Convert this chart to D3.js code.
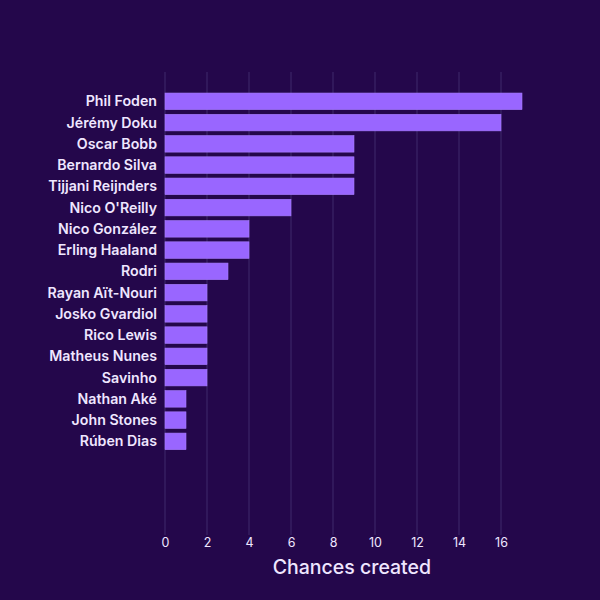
<!DOCTYPE html>
<html><head><meta charset="utf-8">
<script src="https://cdn.jsdelivr.net/npm/d3@7"></script>
<style>html,body{margin:0;padding:0;background:#24074b;}svg{display:block;}</style>
</head><body>
<script>
const players = ["Phil Foden","Jérémy Doku","Oscar Bobb","Bernardo Silva","Tijjani Reijnders","Nico O'Reilly","Nico González","Erling Haaland","Rodri","Rayan Aït-Nouri","Josko Gvardiol","Rico Lewis","Matheus Nunes","Savinho","Nathan Aké","John Stones","Rúben Dias"];
const chances = [17,16,9,9,9,6,4,4,3,2,2,2,2,2,1,1,1];
const xTicks = [0,2,4,6,8,10,12,14,16];
const xLabel = "Chances created";

const W = 600, H = 600;
const svg = d3.select("body").append("svg").attr("width", W).attr("height", H);
svg.append("rect").attr("width", W).attr("height", H).attr("fill", "#24074b");

const x = d3.scaleLinear().domain([0, 17]).range([165, 522]);
const y = d3.scaleBand().domain(players).range([90.7, 452]).paddingInner(0.22).paddingOuter(0.11);

const font = "Inter, 'DejaVu Sans', sans-serif";
const textCol = "#efe6ff";

// grid
svg.append("g").selectAll("line").data(xTicks).join("line")
  .attr("x1", d => x(d)).attr("x2", d => x(d))
  .attr("y1", 72).attr("y2", 535)
  .attr("stroke", "#3f2a6d").attr("stroke-width", 1);

// bars
svg.append("g").selectAll("rect").data(players).join("rect")
  .attr("x", x(0))
  .attr("y", d => y(d))
  .attr("width", (d, i) => x(chances[i]) - x(0))
  .attr("height", y.bandwidth())
  .attr("fill", "#9966ff")
  .attr("stroke", "#a77cff").attr("stroke-width", 0.6);

// y labels
svg.append("g").selectAll("text").data(players).join("text")
  .attr("x", x(0) - 8)
  .attr("y", d => y(d) + y.bandwidth() / 2)
  .attr("dy", "0.35em")
  .attr("text-anchor", "end")
  .attr("font-family", font).attr("font-size", 14.2).attr("font-weight", 600)
  .attr("fill", textCol)
  .text(d => d);

// x axis
const xAxis = svg.append("g").attr("transform", "translate(0,532)")
  .call(d3.axisBottom(x).tickValues(xTicks).tickSize(0).tickPadding(6));
xAxis.select(".domain").remove();
xAxis.selectAll("text").attr("font-family", font).attr("font-size", 12.5).attr("fill", textCol);

svg.append("text")
  .attr("x", x(8.9)).attr("y", 574)
  .attr("text-anchor", "middle")
  .attr("font-family", font).attr("font-size", 19.5).attr("font-weight", 500)
  .attr("fill", textCol)
  .text(xLabel);
</script>
</body></html>
